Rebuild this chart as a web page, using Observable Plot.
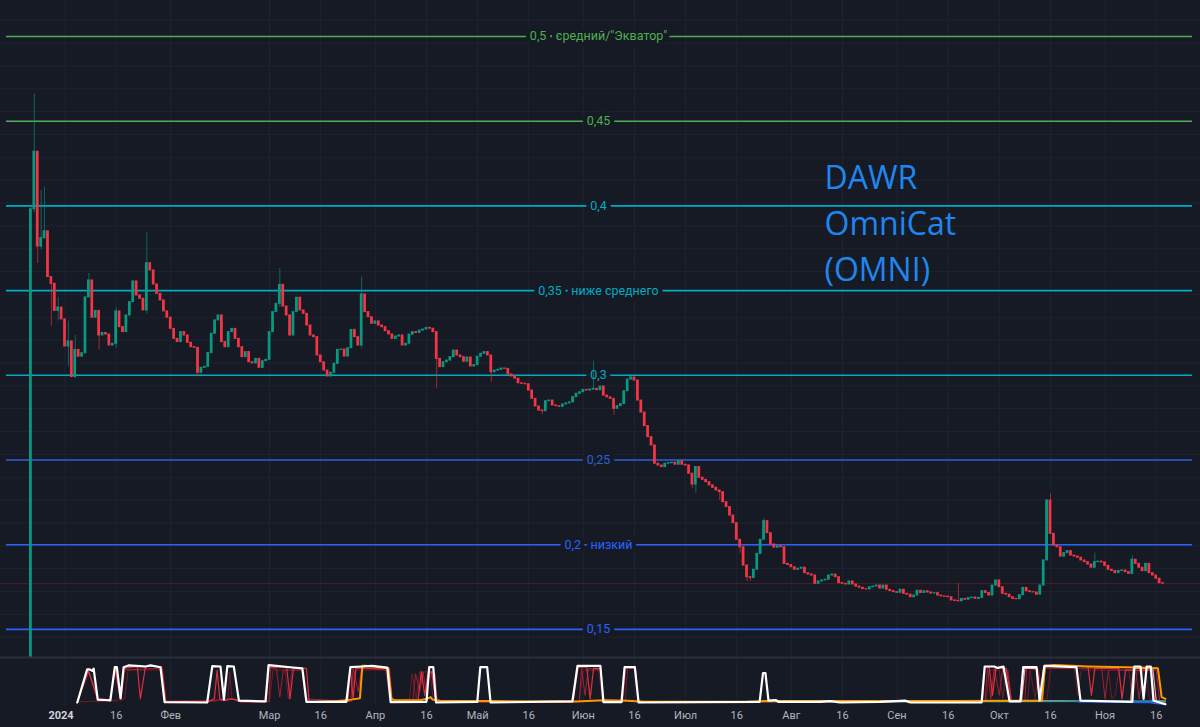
<!DOCTYPE html>
<html><head><meta charset="utf-8">
<script src="https://cdn.jsdelivr.net/npm/d3@7"></script>
<script src="https://cdn.jsdelivr.net/npm/@observablehq/plot@0.6"></script>
<style>
html,body{margin:0;padding:0;background:#161a25;}
#chart{width:1200px;height:727px;overflow:hidden;background:#161a25;}
#chart svg{display:block;}
</style></head><body><div id="chart"></div>
<script>
// ---------- DATA ----------
const firstCandle = "2023-12-22";   // date of first daily candle
const firstOpen = 0.02;             // open of first candle (below the pane)
const closes = [
0.398,0.432,0.376,0.381,0.385,0.358,0.354,0.338,0.340,0.333,
0.317,0.320,0.299,0.315,0.311,0.313,0.346,0.356,0.334,0.338,
0.3235,0.3250,0.3241,0.3176,0.3186,0.3377,0.3284,0.3255,0.3353,0.3432,
0.3554,0.3471,0.3452,0.3383,0.3662,0.3619,0.3536,0.3481,0.3442,0.3377,
0.3340,0.3274,0.3215,0.3196,0.3255,0.3235,0.3192,0.3166,0.3162,0.3015,
0.3044,0.3050,0.3131,0.3245,0.3324,0.3353,0.3196,0.3166,0.3255,0.3274,
0.3215,0.3166,0.3107,0.3137,0.3077,0.3070,0.3097,0.3044,0.3083,0.3091,
0.3255,0.3373,0.3422,0.3534,0.3406,0.3353,0.3235,0.3373,0.3458,0.3383,
0.3363,0.3294,0.3235,0.3225,0.3117,0.3077,0.3028,0.2993,0.3015,0.3068,
0.3150,0.3152,0.3111,0.3160,0.3268,0.3225,0.3176,0.3477,0.3373,0.3343,
0.3304,0.3318,0.3294,0.3284,0.3260,0.3241,0.3215,0.3229,0.3235,0.3176,
0.3186,0.3240,0.3255,0.3250,0.3264,0.3270,0.3280,0.3275,0.3255,0.3097,
0.3048,0.3077,0.3087,0.3107,0.3146,0.3117,0.3107,0.3080,0.3105,0.3052,
0.3060,0.3110,0.3127,0.3137,0.3117,0.3018,0.3028,0.3032,0.3040,0.3038,
0.3005,0.2993,0.2980,0.2953,0.2950,0.2947,0.2910,0.2861,0.2816,0.2792,
0.2788,0.2847,0.2851,0.2822,0.2818,0.2814,0.2828,0.2834,0.2840,0.2871,
0.2891,0.2900,0.2914,0.2910,0.2916,0.2920,0.2912,0.2934,0.2880,0.2870,
0.2861,0.2802,0.2818,0.2830,0.2906,0.2975,0.2987,0.2969,0.2851,0.2780,
0.2700,0.2635,0.2586,0.2478,0.2467,0.2458,0.2478,0.2481,0.2484,0.2472,
0.2493,0.2472,0.2468,0.2419,0.2355,0.2458,0.2395,0.2383,0.2369,0.2350,
0.2336,0.2320,0.2310,0.2251,0.2222,0.2172,0.2127,0.2029,0.1985,0.1877,
0.1808,0.1804,0.1852,0.1946,0.2029,0.2139,0.2068,0.2001,0.1982,0.1991,
0.1985,0.1887,0.1880,0.1867,0.1852,0.1858,0.1864,0.1832,0.1824,0.1818,
0.1769,0.1783,0.1789,0.1793,0.1818,0.1824,0.1808,0.1773,0.1769,0.1765,
0.1783,0.1765,0.1753,0.1746,0.1738,0.1736,0.1749,0.1753,0.1759,0.1741,
0.1759,0.1734,0.1726,0.1720,0.1716,0.1734,0.1710,0.1705,0.1690,0.1700,
0.1728,0.1715,0.1725,0.1718,0.1712,0.1714,0.1700,0.1695,0.1693,0.1690,
0.1671,0.1668,0.1666,0.1680,0.1675,0.1685,0.1688,0.1680,0.1686,0.1726,
0.1715,0.1700,0.1759,0.1789,0.1749,0.1710,0.1705,0.1690,0.1680,0.1678,
0.1702,0.1745,0.1725,0.1720,0.1718,0.1705,0.1759,0.1907,0.2261,0.2064,
0.1995,0.1985,0.1930,0.1950,0.1962,0.1936,0.1930,0.1923,0.1907,0.1897,
0.1883,0.1864,0.1897,0.1900,0.1895,0.1875,0.1852,0.1845,0.1832,0.1845,
0.1848,0.1838,0.1828,0.1911,0.1887,0.1864,0.1844,0.1887,0.1832,0.1818,
0.1799,0.1773,0.1770
];
// notable wicks: candle index, high, low
const wickIndex = [0,1,2,3,4,6,8,11,13,17,20,25,34,49,73,97,119,135,150,165,171,176,194,195,202,208,210,211,215,272,299,312,323];
const wickHigh  = [0.400,0.466,0.432,0.409,0.411,0.358,0.346,0.332,0.3235,0.360,0.338,0.340,0.3845,0.316,0.363,0.358,0.3255,0.3117,0.2792,0.3083,0.2861,0.3000,0.2419,0.2458,0.2320,0.2029,0.1877,0.1808,0.2155,0.1769,0.2300,0.1950,0.1936];
const wickLow   = [0.020,0.396,0.366,0.374,0.380,0.329,0.332,0.305,0.298,0.346,0.315,0.316,0.336,0.299,0.340,0.316,0.292,0.296,0.2769,0.2910,0.2763,0.2975,0.2332,0.2304,0.2261,0.1950,0.1783,0.1783,0.2029,0.1660,0.2064,0.1864,0.1828];

const levelValues = [0.5,0.45,0.4,0.35,0.3,0.25,0.2,0.15];
const levelLabels = ['0,5 · средний/"Экватор"','0,45','0,4','0,35 · ниже среднего','0,3','0,25','0,2 · низкий','0,15'];
const levelColors = ["#4caf50","#4caf50","#00acc1","#00acc1","#00acc1","#2f5fd8","#2962ff","#2962ff"];

const tickDates = ["2024-01-01","2024-01-16","2024-02-01","2024-03-01","2024-03-16","2024-04-01","2024-04-16","2024-05-01","2024-05-16","2024-06-01","2024-06-16","2024-07-01","2024-07-16","2024-08-01","2024-08-16","2024-09-01","2024-09-16","2024-10-01","2024-10-16","2024-11-01","2024-11-16"];
const tickLabels = ["2024","16","Фев","Мар","16","Апр","16","Май","16","Июн","16","Июл","16","Авг","16","Сен","16","Окт","16","Ноя","16"];

const titleLines = ["DAWR","OmniCat","(OMNI)"];

// indicator pane series: [day since 2024-01-01, value]
const whiteLine = [[3.6,0],[6.5,0.92],[7.2,0.92],[8.0,0.88],[8.4,0.94],[9.6,0.08],[11.9,0.07],[13.3,0.06],[14.6,0.98],[15.2,0.98],[16.3,0.12],[17.2,0.98],[18.6,1.03],[22.1,1.01],[23.6,1.0],[25.1,1.03],[28,0.98],[29.2,0.01],[41.7,0],[43.2,1.01],[45.6,1.0],[46.6,0.08],[47.6,1.01],[49.5,1.0],[51,0.05],[58.8,0.03],[59.7,1.04],[62,1.02],[66,0.98],[69.6,0.95],[70.8,0.02],[82.5,0.02],[83.7,0.98],[87.2,1.0],[90,1.02],[94.5,0.97],[95.5,0.01],[106,0.02],[106.8,0.98],[108,0.98],[108.8,0.0],[120.9,0.02],[121.8,0.98],[123.8,0.98],[124.8,0.0],[148.8,0.03],[150.3,1.02],[157,1.02],[157.9,0.01],[163.2,0.01],[164.1,0.98],[167.1,0.98],[168.2,0.0],[203.7,0.02],[204.7,0.82],[205.4,0.82],[206.3,0.05],[208.4,0.07],[209.2,0.02],[221.5,0.02],[224.4,0.04],[227.3,0.0],[239.1,0.02],[246.5,0.05],[247.9,0.0],[262.6,0.0],[268.8,0.0],[269.7,1.0],[272.5,1.0],[273.5,0.96],[275.2,1.0],[277,0.03],[280.2,0.03],[281,0.98],[284.9,0.98],[285.8,0.05],[287.2,1.02],[296.6,0.98],[297.8,0.05],[313,0.02],[313.6,1.0],[315.4,1.0],[316.3,0.1],[317.2,1.0],[318.4,1.0],[319.2,0.05],[322.7,-0.05]];
const redA = [[3.6,0],[6.8,0.9],[9.7,0.05],[13.3,0.05],[14.7,0.95],[16.2,0.1],[17.3,0.95],[21.2,1.0],[22.1,0.1],[23.6,1.0],[28.3,1.0],[29.5,0.02],[42,0.02],[43.8,0.1],[44.6,0.89],[45.4,0.1],[47,0.06],[48.5,0.1],[50,0.08],[51.5,0.02],[59,0.02],[59.8,0.98],[65,0.98],[66,0.1],[67,0.95],[70.8,0.95],[71.6,0.03],[83,0.03],[83.6,1.0],[84.5,0.1],[85.3,0.95],[95,0.95],[95.8,0.05],[103.5,0.05],[104.5,0.85],[105.5,0.2],[106.5,0.85],[107.5,0.85],[108.8,0.02],[149,0.02],[150.5,0.98],[153,0.98],[154,0.1],[155,0.95],[157,0.95],[158,0.02],[163.2,0.02],[164.2,1.0],[167.2,1.0],[168.2,0.02],[269,0.03],[269.8,0.98],[271,0.98],[272,0.2],[273,0.95],[276,0.95],[277.5,0.05],[280,0.05],[281,0.95],[285,0.95],[286,0.1],[287,1.0],[300,1.0],[301,0.2],[302,0.95],[309,0.95],[310,0.1],[311,0.9],[318.5,0.9],[319.5,0.05],[322.7,0.03]];
const redB = [[3.6,0],[7,0.85],[9.8,0.1],[13,0.08],[15,0.9],[16.4,0.05],[17.5,0.9],[27,0.95],[28.5,0.95],[29.6,0.04],[43.5,0.05],[45,0.08],[46,0.05],[49,0.1],[51,0.03],[59.8,0.03],[60.3,0.95],[62,0.95],[63,0.15],[64,0.9],[69.5,0.9],[70.5,0.1],[83.8,0.03],[84.5,0.95],[86,0.3],[87,0.95],[95.2,0.9],[96,0.05],[102,0.05],[102.8,0.8],[104,0.3],[105,0.85],[106,0.25],[107,0.85],[108.5,0.8],[109.2,0.02],[150.8,0.02],[151.5,0.95],[152.5,0.2],[153.5,0.95],[157.2,0.9],[158,0.02],[163.5,0.02],[164.5,0.95],[167.3,0.95],[168.2,0.02],[269.8,0.02],[270.5,0.95],[271.5,0.1],[272.5,0.95],[274,0.2],[275,0.95],[276.5,0.9],[277.5,0.05],[281.5,0.05],[282,0.95],[285.5,0.9],[286.5,0.1],[287.5,0.95],[304,0.95],[305,0.1],[306,0.9],[314,0.9],[315,0.1],[316,0.9],[320,0.9],[321,0.05],[322.7,0.02]];
const redC = [[3.6,0.02],[14.8,0.05],[17.5,0.1],[18.5,0.9],[28.6,0.9],[29.7,0.03],[44,0.03],[45,0.06],[47.8,0.12],[48.3,0.85],[48.9,0.12],[51.5,0.03],[60,0.03],[61,0.9],[64.5,0.9],[65.5,0.1],[66.5,0.9],[70,0.9],[71,0.03],[84,0.03],[85,0.9],[94,0.9],[95.3,0.05],[101,0.08],[101.8,0.8],[103,0.1],[104,0.85],[107,0.85],[108,0.1],[109,0.02],[150.8,0.02],[152,0.9],[156.5,0.9],[157.5,0.1],[164.3,0.05],[165,0.95],[167,0.95],[168,0.03],[270.2,0.03],[271,0.9],[274,0.9],[275,0.1],[276,0.85],[277,0.05],[282.3,0.05],[283,0.9],[284.5,0.1],[285.3,0.85],[286,0.1],[288,0.1],[289,0.95],[296,0.95],[297,0.2],[298,0.9],[306,0.9],[307,0.1],[308,0.2],[309,0.9],[312,0.9],[313,0.1],[314.5,0.85],[317,0.85],[318,0.1],[322.7,0.03]];
const pinkLine = [[280.5,0.03],[281.5,0.95],[285,0.95],[285.8,0.05],[312.5,0.02],[313.3,0.95],[319,0.95],[320,0.05],[322.7,0.02]];
const orangeLine = [[74,0.02],[80,0.04],[84,0.08],[86.5,0.12],[87.2,1.02],[88,1.02],[93,0.97],[94.8,0.95],[95.7,0.1],[97,0.06],[104,0.06],[106,0.1],[107.2,0.15],[107.8,0.08],[110,0.05],[125,0.04],[150,0.03],[158,0.06],[165,0.05],[170,0.02],[200,0.02],[205,0.04],[260,0.04],[286.5,0.05],[287.4,1.02],[290,1.04],[300,1.0],[315,0.97],[320.5,0.95],[321.6,0.15],[322.7,0.1]];
const tealLine = [[200,0.03],[240,0.02],[280,0.03],[322.7,0.04]];
const blueLine = [[297,0.02],[318,0.0],[320,-0.03],[322.7,-0.05]];

// ---------- BUILD ----------
const DAY = 864e5;
const jan1 = Date.UTC(2024,0,1);
const t0 = new Date(firstCandle + "T00:00:00Z").getTime();
const xDomain = [new Date(jan1 - 18.915*DAY), new Date(jan1 + 332.99*DAY)];
const GREEN = "#089981", RED = "#f23645", BG = "#161a25", GRID = "#1f2330";

const candles = closes.map((c,k) => {
  const o = k === 0 ? firstOpen : closes[k-1];
  const w = wickIndex.indexOf(k);
  return {
    date: new Date(t0 + k*DAY),
    x1: new Date(t0 + (k-0.4)*DAY),
    x2: new Date(t0 + (k+0.4)*DAY),
    open: o, close: c,
    high: w >= 0 ? Math.max(wickHigh[w], o, c) : Math.max(o, c),
    low:  w >= 0 ? Math.min(wickLow[w], o, c) : Math.min(o, c),
    color: c >= o ? GREEN : RED
  };
});
const levels = levelValues.map((v,i) => ({value: v, label: levelLabels[i], color: levelColors[i]}));
const ticks = tickDates.map((d,i) => ({date: new Date(d + "T00:00:00Z"), label: tickLabels[i], year: /^\d{4}$/.test(tickLabels[i])}));
const gridValues = d3.range(0.1454, 0.52, 0.01349);
const lastClose = closes[closes.length-1];

const toSeries = arr => arr.map(([d,v]) => ({date: new Date(jan1 + d*DAY), v}));

const main = Plot.plot({
  width: 1200, height: 657, margin: 0,
  style: {background: BG, overflow: "hidden"},
  x: {type: "utc", domain: xDomain, axis: null},
  y: {domain: [0.13341, 0.52125], axis: null},
  color: {type: "identity"},
  marks: [
    Plot.ruleY(gridValues, {stroke: GRID, strokeWidth: 1}),
    Plot.ruleX(ticks, {x: "date", stroke: GRID, strokeWidth: 1}),
    Plot.ruleY([lastClose], {stroke: "#4d1f2a", strokeWidth: 1}),
    Plot.ruleY(levels, {y: "value", stroke: "color", strokeWidth: 1.6, insetLeft: 6, insetRight: 8}),
    Plot.text(levels, {y: "value", text: "label", frameAnchor: "middle", dx: -2, fill: "none", stroke: BG, strokeWidth: 9, fontSize: 12.5, fontFamily: "Roboto"}),
    Plot.ruleX(candles, {x: "date", y1: "low", y2: "high", stroke: "color", strokeOpacity: 0.6, strokeWidth: 1}),
    Plot.rect(candles, {x1: "x1", x2: "x2", y1: "open", y2: "close", fill: "color", insetTop: -0.5, insetBottom: -0.5}),
    Plot.text(levels, {y: "value", text: "label", frameAnchor: "middle", dx: -2, fill: "color", fontSize: 12.5, fontFamily: "Roboto"}),
    Plot.text([titleLines.join("\n")], {text: d => d, frameAnchor: "top-left", textAnchor: "start", lineAnchor: "top", dx: 824, dy: 156, fontSize: 32, lineHeight: 1.43, fill: "#1f86f0", fontFamily: "Open Sans"})
  ]
});

const ind = Plot.plot({
  width: 1200, height: 70, marginTop: 0, marginBottom: 22, marginLeft: 0, marginRight: 0,
  style: {background: BG, overflow: "visible"},
  x: {type: "utc", domain: xDomain, axis: null},
  y: {domain: [-0.0833, 1.25], axis: null},
  marks: [
    Plot.ruleX(ticks, {x: "date", stroke: GRID, strokeWidth: 1}),
    Plot.frame({anchor: "top", stroke: "#2a2e39", strokeWidth: 2}),
    Plot.line(toSeries(redC), {x: "date", y: "v", stroke: "#6e1c26", strokeWidth: 1}),
    Plot.line(toSeries(redB), {x: "date", y: "v", stroke: "#a3202f", strokeWidth: 1}),
    Plot.line(toSeries(redA), {x: "date", y: "v", stroke: "#e0303f", strokeWidth: 1.2}),
    Plot.line(toSeries(pinkLine), {x: "date", y: "v", stroke: "#f3a5b5", strokeWidth: 1.2}),
    Plot.line(toSeries(tealLine), {x: "date", y: "v", stroke: "#26a69a", strokeWidth: 1.5}),
    Plot.line(toSeries(blueLine), {x: "date", y: "v", stroke: "#2962ff", strokeWidth: 1.5}),
    Plot.line(toSeries(orangeLine), {x: "date", y: "v", stroke: "#ff9800", strokeWidth: 2}),
    Plot.line(toSeries(whiteLine), {x: "date", y: "v", stroke: "#ffffff", strokeWidth: 2.2, strokeLinejoin: "round"}),
    Plot.text(ticks.filter(t => !t.year), {x: "date", text: "label", frameAnchor: "bottom", dy: 13, fill: "#b2b5be", fontSize: 11, fontFamily: "Roboto"}),
    Plot.text(ticks.filter(t => t.year), {x: "date", text: "label", frameAnchor: "bottom", dy: 13, dx: -4, fill: "#d1d4dc", fontSize: 11, fontWeight: "bold", fontFamily: "Roboto"})
  ]
});

const root = document.getElementById("chart");
root.appendChild(main);
root.appendChild(ind);
</script>
</body></html>
